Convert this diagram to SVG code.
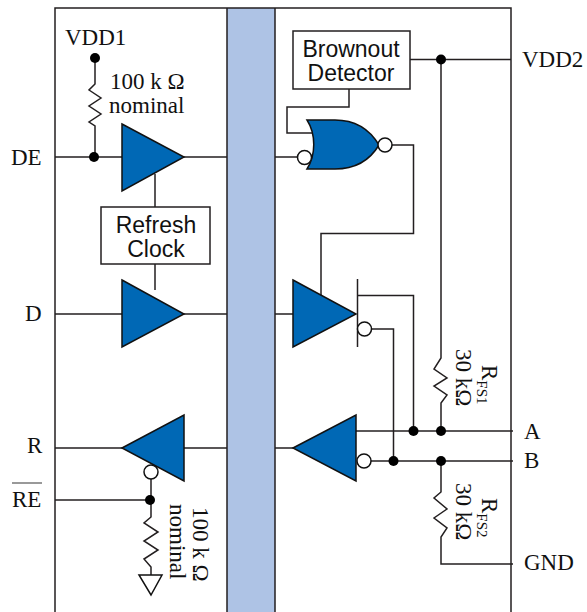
<svg xmlns="http://www.w3.org/2000/svg" width="587" height="612" viewBox="0 0 587 612">
<style>
.w{fill:none;stroke:#231f20;stroke-width:1.5}
.b{fill:#0068b5;stroke:#111;stroke-width:1.5;stroke-linejoin:miter}
.o{fill:#fff;stroke:#111;stroke-width:1.5}
.d{fill:#000}
.box{fill:#fff;stroke:#231f20;stroke-width:1.5}
.t{font-family:"Liberation Serif",serif;font-size:23px;fill:#111}
.s{font-family:"Liberation Sans",sans-serif;font-size:23px;fill:#111;text-anchor:middle}
.sub{font-size:15px}
</style>
<rect width="587" height="612" fill="#fff"/>
<rect id="barrier" x="227" y="8" width="48" height="604" fill="#aec3e5"/>
<g id="connectors" class="w">
<path d="M55 612V8H511V612"/>
<path d="M227 8V612M275 8V612"/>
<path d="M55 157H122M184 157H227M275 157H298"/>
<path d="M55 314H122M184 314H227M275 314H293"/>
<path d="M55 448H122M184 448H227M275 448H293"/>
<path d="M155 174V207M155 264V290"/>
<path d="M95 58V84L89 90L101 98L89 106L101 114L89 122L95 126V157"/>
<path d="M151 479V517L144 523L158 532L144 541L158 550L144 559L151 567V575"/>
<path d="M55 500H150"/>
<path d="M410 59.500H511"/>
<path d="M441 59V358L434 369L447 378L434 386L447 395L441 403V431"/>
<path d="M441 461V492L434 498L447 509L434 518L447 528L441 537V564H513"/>
<path d="M349 89V107H287V133H312"/>
<path d="M392 145H413.500V233.500H321V296"/>
<path d="M357.500 279V347"/>
<path d="M358 295.500H413.500V431"/>
<path d="M371 329H393.500V461"/>
<path d="M356 431H513"/>
<path d="M371 461H513"/>
</g>
<g id="driver-de"><path class="b" d="M122 124L184 157L122 191Z"/></g>
<g id="driver-d"><path class="b" d="M122 280L184 314L122 347Z"/></g>
<g id="receiver-r"><path class="b" d="M122 448L184 415V481Z"/><circle class="o" cx="151" cy="472" r="7"/></g>
<g id="nor"><path class="b" d="M307 120H335C355 120 370 130 379 145C370 160 355 169 335 169H307C316 155 316 134 307 120Z"/><circle class="o" cx="304.500" cy="157.500" r="7"/><circle class="o" cx="385" cy="145" r="7"/></g>
<g id="driver-out"><path class="b" d="M293 280L356 314L293 347Z"/><circle class="o" cx="364.500" cy="329" r="7"/></g>
<g id="receiver-in"><path class="b" d="M293 448L356 415V481Z"/><circle class="o" cx="364" cy="461" r="7"/></g>
<g id="junctions" class="d">
<circle cx="95" cy="58" r="5"/><circle cx="94" cy="157" r="5"/><circle cx="150" cy="500" r="5"/>
<circle cx="441" cy="59.500" r="5"/><circle cx="413.500" cy="431" r="5"/><circle cx="441" cy="431" r="5"/>
<circle cx="393.500" cy="461" r="5"/><circle cx="441" cy="461" r="5"/>
</g>
<g id="ground"><path fill="#fff" stroke="#111" stroke-width="1.500" d="M139 575H162L151 595Z"/></g>
<g id="refresh-clock"><rect class="box" x="101" y="207" width="109" height="57"/><text class="s" x="156" y="233">Refresh</text><text class="s" x="156" y="257">Clock</text></g>
<g id="brownout"><rect class="box" x="293" y="31" width="117" height="58"/><text class="s" x="351" y="57">Brownout</text><text class="s" x="351" y="81">Detector</text></g>
<g id="labels" class="t">
<text x="65" y="45">VDD1</text>
<text x="110" y="89">100 k Ω</text>
<text x="109" y="113">nominal</text>
<text x="11" y="165">DE</text>
<text x="25" y="321">D</text>
<text x="27" y="453">R</text>
<text x="12" y="507">RE</text>
<path d="M12 483H42" stroke="#555" stroke-width="1.200" fill="none"/>
<text x="522" y="67">VDD2</text>
<text x="524" y="439">A</text>
<text x="524" y="468">B</text>
<text x="524" y="570">GND</text>
<text transform="translate(193 507) rotate(90)">100 k Ω</text>
<text transform="translate(170 504) rotate(90)">nominal</text>
<text transform="translate(482 365) rotate(90)">R<tspan class="sub" dy="5">FS1</tspan></text>
<text transform="translate(456 349) rotate(90)">30 kΩ</text>
<text transform="translate(482 498) rotate(90)">R<tspan class="sub" dy="5">FS2</tspan></text>
<text transform="translate(456 483) rotate(90)">30 kΩ</text>
</g>
</svg>
